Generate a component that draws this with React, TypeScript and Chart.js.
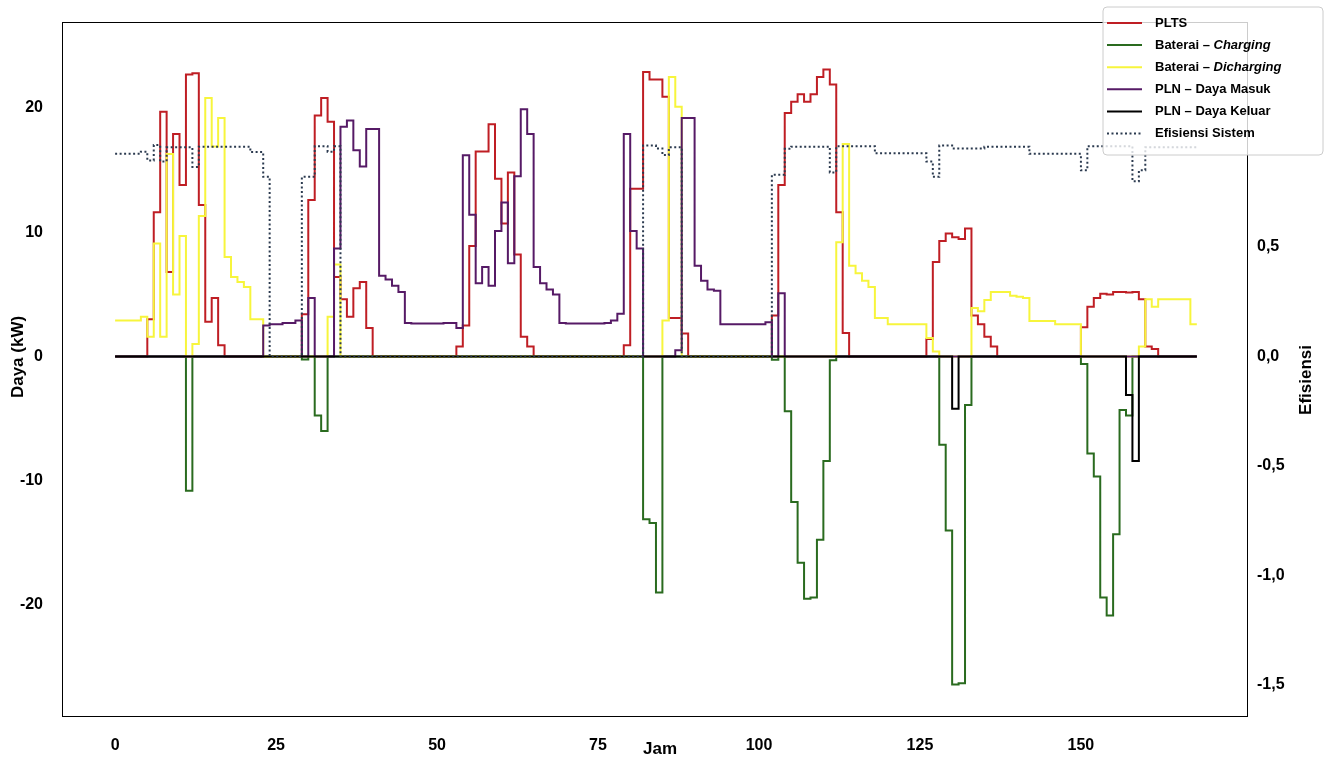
import React, { useEffect, useRef } from "react";
import { Chart, registerables } from "chart.js";

Chart.register(...registerables);

// Hours 0..168 (x categories)
const jam: number[] = Array.from({ length: 169 }, (_, i) => i);

// PLTS (kW), one value per hour
const plts: number[] = [
  0, 0, 0, 0, 0, 3.0, 11.6, 19.7, 6.8, 17.9, 13.8, 22.7,
  22.8, 12.2, 2.8, 4.7, 0.9, 0, 0, 0, 0, 0, 0, 0,
  0, 0, 0, 0, 0, 3.4, 12.6, 19.4, 20.8, 18.9, 6.4, 4.6,
  3.2, 5.5, 6.0, 2.3, 0, 0, 0, 0, 0, 0, 0, 0,
  0, 0, 0, 0, 0, 0.8, 2.5, 8.9, 16.5, 16.5, 18.7, 14.3,
  10.7, 14.8, 8.2, 1.6, 0.8, 0, 0, 0, 0, 0, 0, 0,
  0, 0, 0, 0, 0, 0, 0, 0.9, 13.5, 13.5, 22.9, 22.3,
  22.3, 20.9, 3.1, 3.1, 1.85, 0, 0, 0, 0, 0, 0, 0,
  0, 0, 0, 0, 0, 0, 3.3, 13.8, 19.6, 20.5, 21.1, 20.5,
  21.1, 22.5, 23.1, 21.9, 11.6, 1.9, 0, 0, 0, 0, 0, 0,
  0, 0, 0, 0, 0, 0, 1.4, 7.6, 9.3, 9.9, 9.6, 9.45,
  10.3, 3.3, 2.6, 1.6, 0.8, 0, 0, 0, 0, 0, 0, 0,
  0, 0, 0, 0, 0, 0, 2.35, 4.0, 4.7, 5.05, 5.0, 5.2,
  5.2, 5.15, 5.2, 4.6, 0.8, 0.6, 0, 0, 0, 0, 0, 0,
  0,
];

// Baterai - Charging (kW)
const charging: number[] = [
  0, 0, 0, 0, 0, 0, 0, 0, 0, 0, 0, -10.8,
  0, 0, 0, 0, 0, 0, 0, 0, 0, 0, 0, 0,
  0, 0, 0, 0, 0, -0.25, 0, -4.75, -6.0, 0, 0, 0,
  0, 0, 0, 0, 0, 0, 0, 0, 0, 0, 0, 0,
  0, 0, 0, 0, 0, 0, 0, 0, 0, 0, 0, 0,
  0, 0, 0, 0, 0, 0, 0, 0, 0, 0, 0, 0,
  0, 0, 0, 0, 0, 0, 0, 0, 0, 0, -13.1, -13.4,
  -19.0, 0, 0, 0, 0, 0, 0, 0, 0, 0, 0, 0,
  0, 0, 0, 0, 0, 0, -0.27, 0, -4.4, -11.7, -16.6, -19.5,
  -19.4, -14.75, -8.4, -0.3, 0, 0, 0, 0, 0, 0, 0, 0,
  0, 0, 0, 0, 0, 0, 0, 0, -7.1, -14.0, -26.4, -26.3,
  -3.9, 0, 0, 0, 0, 0, 0, 0, 0, 0, 0, 0,
  0, 0, 0, 0, 0, 0, -0.6, -7.8, -9.65, -19.4, -20.85, -14.3,
  -4.3, -4.75, 0, 0, 0, 0, 0, 0, 0, 0, 0, 0,
  0,
];

// Baterai - Discharging (kW)
const discharging: number[] = [
  2.9, 2.9, 2.9, 2.9, 3.2, 1.6, 9.1, 1.6, 16.3, 5.0, 9.7, 0,
  1.0, 11.3, 20.8, 16.9, 19.2, 8.0, 6.4, 6.0, 5.6, 3.0, 3.0, 0,
  0, 0, 0, 0, 0, 0, 0, 0, 0, 3.2, 7.4, 0,
  0, 0, 0, 0, 0, 0, 0, 0, 0, 0, 0, 0,
  0, 0, 0, 0, 0, 0, 0, 0, 0, 0, 0, 0,
  0, 0, 0, 0, 0, 0, 0, 0, 0, 0, 0, 0,
  0, 0, 0, 0, 0, 0, 0, 0, 0, 0, 0, 0,
  0, 2.9, 22.5, 20.1, 0, 0, 0, 0, 0, 0, 0, 0,
  0, 0, 0, 0, 0, 0, 0, 0, 0, 0, 0, 0,
  0, 0, 0, 0, 9.2, 17.1, 7.3, 6.7, 6.1, 5.6, 3.1, 3.1,
  2.6, 2.6, 2.6, 2.6, 2.6, 2.6, 1.5, 0.4, 0, 0, 0, 0,
  0, 3.9, 3.65, 4.55, 5.2, 5.2, 5.2, 4.9, 4.8, 4.7, 2.85, 2.85,
  2.85, 2.85, 2.6, 2.6, 2.6, 2.6, 0, 0, 0, 0, 0, 0,
  0, 0, 0, 0.8, 4.6, 4.0, 4.6, 4.6, 4.6, 4.6, 4.6, 2.6,
  2.6,
];

// PLN - Daya Masuk (kW)
const plnMasuk: number[] = [
  0, 0, 0, 0, 0, 0, 0, 0, 0, 0, 0, 0,
  0, 0, 0, 0, 0, 0, 0, 0, 0, 0, 0, 2.5,
  2.6, 2.6, 2.7, 2.7, 2.9, 0, 4.7, 0, 0, 0, 8.7, 18.5,
  19.0, 16.6, 15.3, 18.3, 18.3, 6.5, 6.2, 5.7, 5.2, 2.7, 2.65, 2.65,
  2.65, 2.65, 2.65, 2.7, 2.7, 2.3, 16.2, 11.4, 5.9, 7.2, 5.7, 10.1,
  12.4, 7.5, 14.5, 19.9, 17.9, 7.2, 5.9, 5.4, 5.0, 2.7, 2.65, 2.65,
  2.65, 2.65, 2.65, 2.65, 2.7, 2.9, 3.45, 17.9, 10.1, 8.7, 0, 0,
  0, 0, 0, 0.5, 19.2, 19.2, 7.3, 6.1, 5.4, 5.3, 2.6, 2.6,
  2.6, 2.6, 2.6, 2.6, 2.6, 2.75, 0, 5.1, 0, 0, 0, 0,
  0, 0, 0, 0, 0, 0, 0, 0, 0, 0, 0, 0,
  0, 0, 0, 0, 0, 0, 0, 0, 0, 0, 0, 0,
  0, 0, 0, 0, 0, 0, 0, 0, 0, 0, 0, 0,
  0, 0, 0, 0, 0, 0, 0, 0, 0, 0, 0, 0,
  0, 0, 0, 0, 0, 0, 0, 0, 0, 0, 0, 0,
  0,
];

// PLN - Daya Keluar (kW): non-zero hours only
const keluarJam: number[] = [130, 157, 158];
const keluarNilai: number[] = [-4.2, -3.1, -8.4];
const plnKeluar: number[] = jam.map((h) => {
  const k = keluarJam.indexOf(h);
  return k >= 0 ? keluarNilai[k] : 0;
});

// Efisiensi Sistem (right axis)
const efisiensi: number[] = [
  0.925, 0.925, 0.925, 0.925, 0.935, 0.895, 0.965, 0.89, 0.955, 0.955, 0.955, 0.955,
  0.865, 0.958, 0.958, 0.958, 0.958, 0.958, 0.958, 0.958, 0.958, 0.933, 0.933, 0.82,
  0, 0, 0, 0, 0, 0.82, 0.82, 0.96, 0.96, 0.935, 0.96, 0,
  0, 0, 0, 0, 0, 0, 0, 0, 0, 0, 0, 0,
  0, 0, 0, 0, 0, 0, 0, 0, 0, 0, 0, 0,
  0, 0, 0, 0, 0, 0, 0, 0, 0, 0, 0, 0,
  0, 0, 0, 0, 0, 0, 0, 0, 0, 0, 0.963, 0.963,
  0.95, 0.92, 0.955, 0.955, 0, 0, 0, 0, 0, 0, 0, 0,
  0, 0, 0, 0, 0, 0, 0.83, 0.83, 0.948, 0.958, 0.958, 0.958,
  0.958, 0.958, 0.958, 0.84, 0.96, 0.96, 0.96, 0.96, 0.96, 0.96, 0.928, 0.928,
  0.928, 0.928, 0.928, 0.928, 0.928, 0.928, 0.89, 0.82, 0.963, 0.963, 0.95, 0.95,
  0.95, 0.95, 0.95, 0.958, 0.958, 0.958, 0.958, 0.958, 0.958, 0.958, 0.925, 0.925,
  0.925, 0.925, 0.925, 0.925, 0.925, 0.925, 0.85, 0.96, 0.96, 0.96, 0.96, 0.96,
  0.96, 0.96, 0.8, 0.85, 0.955, 0.955, 0.955, 0.955, 0.955, 0.955, 0.955, 0.955,
  0.955,
];

const xTicks: number[] = [0, 25, 50, 75, 100, 125, 150];
const yTicks: number[] = [-20, -10, 0, 10, 20];
const y2Ticks: number[] = [-1.5, -1.0, -0.5, 0, 0.5];

const COLORS = {
  plts: "#bf1e24",
  charging: "#2a6b1f",
  discharging: "#f7f53c",
  masuk: "#561a66",
  keluar: "#000000",
  efisiensi: "#2b3a4f",
};

const legendItems = [
  { main: "PLTS", italic: "", color: COLORS.plts, dash: [] as number[] },
  { main: "Baterai \u2013 ", italic: "Charging", color: COLORS.charging, dash: [] as number[] },
  { main: "Baterai \u2013 ", italic: "Dicharging", color: COLORS.discharging, dash: [] as number[] },
  { main: "PLN \u2013 Daya Masuk", italic: "", color: COLORS.masuk, dash: [] as number[] },
  { main: "PLN \u2013 Daya Keluar", italic: "", color: COLORS.keluar, dash: [] as number[] },
  { main: "Efisiensi Sistem", italic: "", color: COLORS.efisiensi, dash: [2, 2.5] },
];

const FONT = "'Liberation Sans', Arial, sans-serif";

const decorPlugin = {
  id: "decor",
  afterDraw(chart: any) {
    const { ctx, chartArea: a } = chart;
    ctx.save();
    // frame
    ctx.strokeStyle = "#000";
    ctx.lineWidth = 1;
    ctx.setLineDash([]);
    ctx.strokeRect(a.left + 0.5, a.top + 0.5, a.right - a.left - 1, a.bottom - a.top - 1);

    // axis titles
    ctx.fillStyle = "#000";
    ctx.font = `bold 17px ${FONT}`;
    ctx.textAlign = "center";
    ctx.textBaseline = "middle";
    ctx.fillText("Jam", 660, 749);
    ctx.save();
    ctx.translate(18, 357);
    ctx.rotate(-Math.PI / 2);
    ctx.fillText("Daya (kW)", 0, 0);
    ctx.restore();
    ctx.save();
    ctx.translate(1306, 380);
    ctx.rotate(-Math.PI / 2);
    ctx.fillText("Efisiensi", 0, 0);
    ctx.restore();

    // legend
    const bx = 1103, by = 7, bw = 220, bh = 148, r = 4;
    ctx.beginPath();
    ctx.moveTo(bx + r, by);
    ctx.lineTo(bx + bw - r, by);
    ctx.quadraticCurveTo(bx + bw, by, bx + bw, by + r);
    ctx.lineTo(bx + bw, by + bh - r);
    ctx.quadraticCurveTo(bx + bw, by + bh, bx + bw - r, by + bh);
    ctx.lineTo(bx + r, by + bh);
    ctx.quadraticCurveTo(bx, by + bh, bx, by + bh - r);
    ctx.lineTo(bx, by + r);
    ctx.quadraticCurveTo(bx, by, bx + r, by);
    ctx.closePath();
    ctx.fillStyle = "rgba(255,255,255,0.8)";
    ctx.fill();
    ctx.strokeStyle = "#cccccc";
    ctx.lineWidth = 1;
    ctx.stroke();

    ctx.textAlign = "left";
    ctx.textBaseline = "middle";
    legendItems.forEach((it, i) => {
      const y = 23 + i * 22.1;
      ctx.beginPath();
      ctx.setLineDash(it.dash);
      ctx.strokeStyle = it.color;
      ctx.lineWidth = 2;
      ctx.moveTo(1107, y);
      ctx.lineTo(1142, y);
      ctx.stroke();
      ctx.setLineDash([]);
      ctx.fillStyle = "#000";
      ctx.font = `bold 13px ${FONT}`;
      ctx.fillText(it.main, 1155, y);
      if (it.italic) {
        const w = ctx.measureText(it.main).width;
        ctx.font = `italic bold 13px ${FONT}`;
        ctx.fillText(it.italic, 1155 + w, y);
      }
    });
    ctx.restore();
  },
};

function series(values: number[]) {
  return jam.map((h, i) => ({ x: h, y: values[i] }));
}

export default function App() {
  const ref = useRef<HTMLCanvasElement | null>(null);

  useEffect(() => {
    if (!ref.current) return;
    const base = {
      borderWidth: 2,
      pointRadius: 0,
      pointHoverRadius: 0,
      stepped: true,
      fill: false,
      borderCapStyle: "butt",
      borderJoinStyle: "miter",
    };
    const tickFont = { family: FONT, size: 16, weight: "bold" as const };
    const chart = new Chart(ref.current, {
      type: "line",
      data: {
        datasets: [
          { ...base, label: "PLTS", data: series(plts), borderColor: COLORS.plts, yAxisID: "y", order: 5 },
          { ...base, label: "Baterai – Charging", data: series(charging), borderColor: COLORS.charging, yAxisID: "y", order: 4 },
          { ...base, label: "Baterai – Dicharging", data: series(discharging), borderColor: COLORS.discharging, yAxisID: "y", order: 3 },
          { ...base, label: "PLN – Daya Masuk", data: series(plnMasuk), borderColor: COLORS.masuk, yAxisID: "y", order: 2 },
          { ...base, label: "PLN – Daya Keluar", data: series(plnKeluar), borderColor: COLORS.keluar, yAxisID: "y", order: 1 },
          { ...base, label: "Efisiensi Sistem", data: series(efisiensi), borderColor: COLORS.efisiensi, borderDash: [2, 2.5], yAxisID: "y2", order: 0 },
        ] as any,
      },
      options: {
        animation: false,
        responsive: false,
        devicePixelRatio: 1,
        layout: { autoPadding: false, padding: { top: 22, left: 0, right: 0, bottom: 0 } },
        plugins: { legend: { display: false }, tooltip: { enabled: false } },
        events: [],
        scales: {
          x: {
            type: "linear",
            min: -8.25,
            max: 175.95,
            afterBuildTicks: (s: any) => {
              s.ticks = xTicks.map((v) => ({ value: v }));
            },
            afterFit: (s: any) => {
              s.height = 40;
            },
            ticks: { font: tickFont, color: "#000", padding: 0, maxRotation: 0, autoSkip: false, callback: (v: any) => String(v) },
            grid: { display: false, drawTicks: true, tickLength: 19 },
            border: { display: false },
          },
          y: {
            type: "linear",
            position: "left",
            min: -29.01,
            max: 26.92,
            afterBuildTicks: (s: any) => {
              s.ticks = yTicks.map((v) => ({ value: v }));
            },
            afterFit: (s: any) => {
              s.width = 62;
            },
            ticks: { font: tickFont, color: "#000", padding: 0, callback: (v: any) => String(v) },
            grid: { display: false, drawTicks: true, tickLength: 19 },
            border: { display: false },
          },
          y2: {
            type: "linear",
            position: "right",
            min: -1.646,
            max: 1.527,
            afterBuildTicks: (s: any) => {
              s.ticks = y2Ticks.map((v) => ({ value: v }));
            },
            afterFit: (s: any) => {
              s.width = 79;
            },
            ticks: {
              font: tickFont,
              color: "#000",
              padding: 0,
              callback: (v: any) => Number(v).toFixed(1).replace(".", ","),
            },
            grid: { display: false, drawTicks: true, tickLength: 9 },
            border: { display: false },
          },
        },
      } as any,
      plugins: [decorPlugin],
    });
    return () => chart.destroy();
  }, []);

  return (
    <div style={{ position: "fixed", left: 0, top: 0, width: 1327, height: 757, background: "#fff" }}>
      <canvas ref={ref} width={1327} height={757} style={{ display: "block", width: 1327, height: 757 }} />
    </div>
  );
}
